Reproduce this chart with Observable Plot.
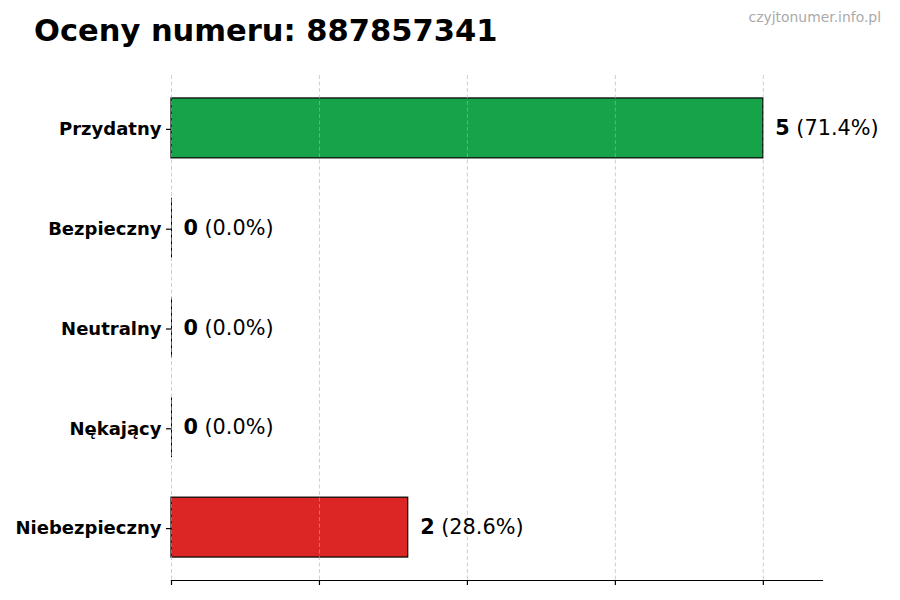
<!DOCTYPE html>
<html><head><meta charset="utf-8">
<script src="https://cdn.jsdelivr.net/npm/d3@7"></script>
<script src="https://cdn.jsdelivr.net/npm/@observablehq/plot@0.6"></script>
<style>
body{margin:0;background:#fff;font-family:"DejaVu Sans",sans-serif;}
#wrap{position:relative;width:900px;height:600px;}
#title{position:absolute;left:34px;top:16px;font-size:30.5px;line-height:30px;font-weight:bold;color:#000;white-space:nowrap;}
#wm{position:absolute;right:19px;top:10px;font-size:13.9px;line-height:14px;color:#aaa;white-space:nowrap;}
</style></head><body>
<div id="wrap"><div id="chart"></div><div id="title">Oceny numeru: 887857341</div><div id="wm">czyjtonumer.info.pl</div></div>
<script>
const categories = ["Przydatny","Bezpieczny","Neutralny","Nękający","Niebezpieczny"];
const counts = [5,0,0,0,2];
const percents = ["71.4%","0.0%","0.0%","0.0%","28.6%"];
const colors = ["#16a34a","#2563eb","#6b7280","#f97316","#dc2626"];
const xTicks = [0,1.25,2.5,3.75,5];
const data = categories.map((c,i)=>({category:c,count:counts[i],pct:percents[i],color:colors[i]}));
const chart = Plot.plot({
  width:900,height:600,marginTop:75,marginBottom:20,marginLeft:171,marginRight:78,
  style:{fontFamily:"DejaVu Sans",background:"white"},
  x:{domain:[0,5.5]},
  y:{domain:categories,paddingInner:0.4,paddingOuter:0.23,round:false},
  color:{type:"identity"},
  marks:[
    Plot.barX(data,{x:"count",y:"category",fill:"color",stroke:"#000",strokeWidth:1.2}),
    Plot.tickX(data.filter(d=>d.count===0),{x:"count",y:"category",stroke:"#000",strokeWidth:1}),
    Plot.ruleX(xTicks,{stroke:"#b0b0b0",strokeOpacity:0.6,strokeDasharray:"4,2.5"}),
    Plot.frame({anchor:"bottom",stroke:"#000",strokeWidth:1.2}),
    Plot.axisX({ticks:xTicks,tickSize:5,tickFormat:()=>"",stroke:"#000",strokeWidth:1.2,label:null}),
    Plot.axisY({tickSize:5,tickPadding:5,fontSize:18,fontWeight:"bold",fill:"#000",stroke:"#000",strokeWidth:1.2,label:null,dy:1}),
    Plot.text(data,{x:"count",y:"category",text:d=>String(d.count),dx:12,textAnchor:"start",fontWeight:"bold",fontSize:20.8,fill:"#000"}),
    Plot.text(data,{x:"count",y:"category",text:d=>"("+d.pct+")",dx:33,textAnchor:"start",fontSize:20.8,fill:"#000"})
  ]
});
document.getElementById("chart").appendChild(chart);
</script>
</body></html>
